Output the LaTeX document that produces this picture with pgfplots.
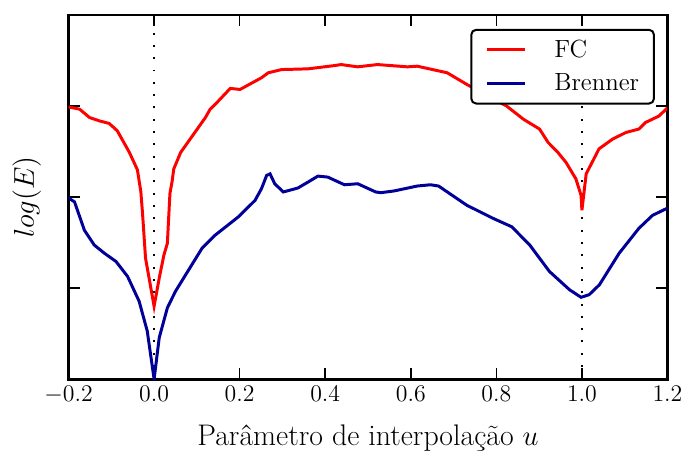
\documentclass[border=0pt]{standalone}
\usepackage{fontspec}
\usepackage{pgfplots}
\pgfplotsset{compat=1.18}
\definecolor{fcred}{RGB}{255,0,0}
\definecolor{brblue}{RGB}{0,0,153}

\pgfplotstableread{
u      y
-0.200 2.99
-0.174 2.965
-0.151 2.874
-0.128 2.837
-0.105 2.809
-0.086 2.728
-0.058 2.493
-0.039 2.30
-0.031 2.06
-0.027 1.82
-0.020 1.33
0.000  0.803
0.012  1.112
0.023  1.366
0.031  1.493
0.037  2.04
0.042  2.17
0.046  2.31
0.062  2.49
0.120  2.874
0.131  2.965
0.143  3.019
0.178  3.193
0.201  3.182
0.251  3.31
0.267  3.365
0.298  3.40
0.360  3.408
0.422  3.444
0.437  3.455
0.476  3.43
0.522  3.455
0.592  3.43
0.615  3.437
0.685  3.365
0.731  3.237
0.777  3.117
0.824  3.00
0.863  2.856
0.901  2.747
0.921  2.60
0.944  2.49
0.963  2.38
0.986  2.20
0.998  2.02
1.000  1.856
1.010  2.256
1.040  2.53
1.072  2.638
1.103  2.71
1.133  2.747
1.149  2.82
1.180  2.89
1.200  2.98
}\fcdata

\pgfplotstableread{
u      y
-0.200 1.99
-0.186 1.948
-0.163 1.638
-0.140 1.475
-0.116 1.384
-0.089 1.294
-0.062 1.130
-0.035 0.858
-0.016 0.531
0.000  0.003
0.012  0.458
0.031  0.785
0.050  0.967
0.112  1.439
0.143  1.584
0.197  1.784
0.236  1.965
0.251  2.093
0.263  2.238
0.271  2.256
0.282  2.147
0.302  2.057
0.336  2.10
0.360  2.166
0.383  2.231
0.406  2.22
0.445  2.136
0.476  2.147
0.518  2.057
0.530  2.049
0.561  2.068
0.615  2.122
0.646  2.136
0.665  2.122
0.731  1.911
0.793  1.766
0.836  1.675
0.878  1.475
0.924  1.185
0.971  0.984
0.998  0.901
1.017  0.930
1.041  1.039
1.087  1.384
1.133  1.657
1.165  1.80
1.200  1.88
}\brdata

\begin{document}
\begin{tikzpicture}
\begin{axis}[
  scale only axis, width=301.5pt, height=183.5pt,
  xmin=-0.2, xmax=1.2, ymin=0, ymax=4,
  xtick={-0.2,0,0.2,0.4,0.6,0.8,1.0,1.2},
  xticklabel style={/pgf/number format/.cd,fixed,fixed zerofill,precision=1},
  ytick={1,2,3}, yticklabels={},
  tick align=inside, major tick length=5.8pt,
  tick style={black, line width=0.8pt},
  axis line style={line width=1.3pt},
  tick label style={font=\fontsize{12.5}{14}\selectfont},
  label style={font=\fontsize{15}{17}\selectfont},
  xlabel={Parâmetro de interpolação $u$},
  ylabel={$log(E)$},
  xlabel style={at={([yshift=-29.4pt]axis description cs:0.5,0)}, anchor=center},
  ylabel style={at={([xshift=-21pt]axis description cs:0,0.5)}, anchor=center},
  legend style={at={([xshift=-6.3pt,yshift=-7pt]axis description cs:1,1)}, anchor=north east,
    draw=black, line width=1pt, rounded corners=2.5pt,
    font=\fontsize{12.5}{14}\selectfont, row sep=1.8pt, column sep=11.5pt,
    inner xsep=5pt, inner ysep=2.5pt,
    nodes={inner xsep=2.5pt, inner ysep=2.5pt}},
  legend cell align=left,
  legend image code/.code={\path (0pt,0pt); \draw[#1, line width=1.5pt] (2pt,0pt) -- (21.3pt,0pt);},
]
\addplot[black, dash pattern=on 1pt off 5.2pt, line width=1.1pt, forget plot] coordinates {(0,0) (0,4)};
\addplot[black, dash pattern=on 1pt off 5.2pt, line width=1.1pt, forget plot] coordinates {(1,0) (1,4)};
\addplot[fcred, line width=1.5pt] table[x=u,y=y] {\fcdata};
\addlegendentry{FC}
\addplot[brblue, line width=1.5pt] table[x=u,y=y] {\brdata};
\addlegendentry{Brenner}
\end{axis}
\path (current axis.south west) ++(-34.5pt,-36.5pt)
  rectangle ([xshift=8.5pt,yshift=7.5pt]current axis.north east);
\end{tikzpicture}
\end{document}
